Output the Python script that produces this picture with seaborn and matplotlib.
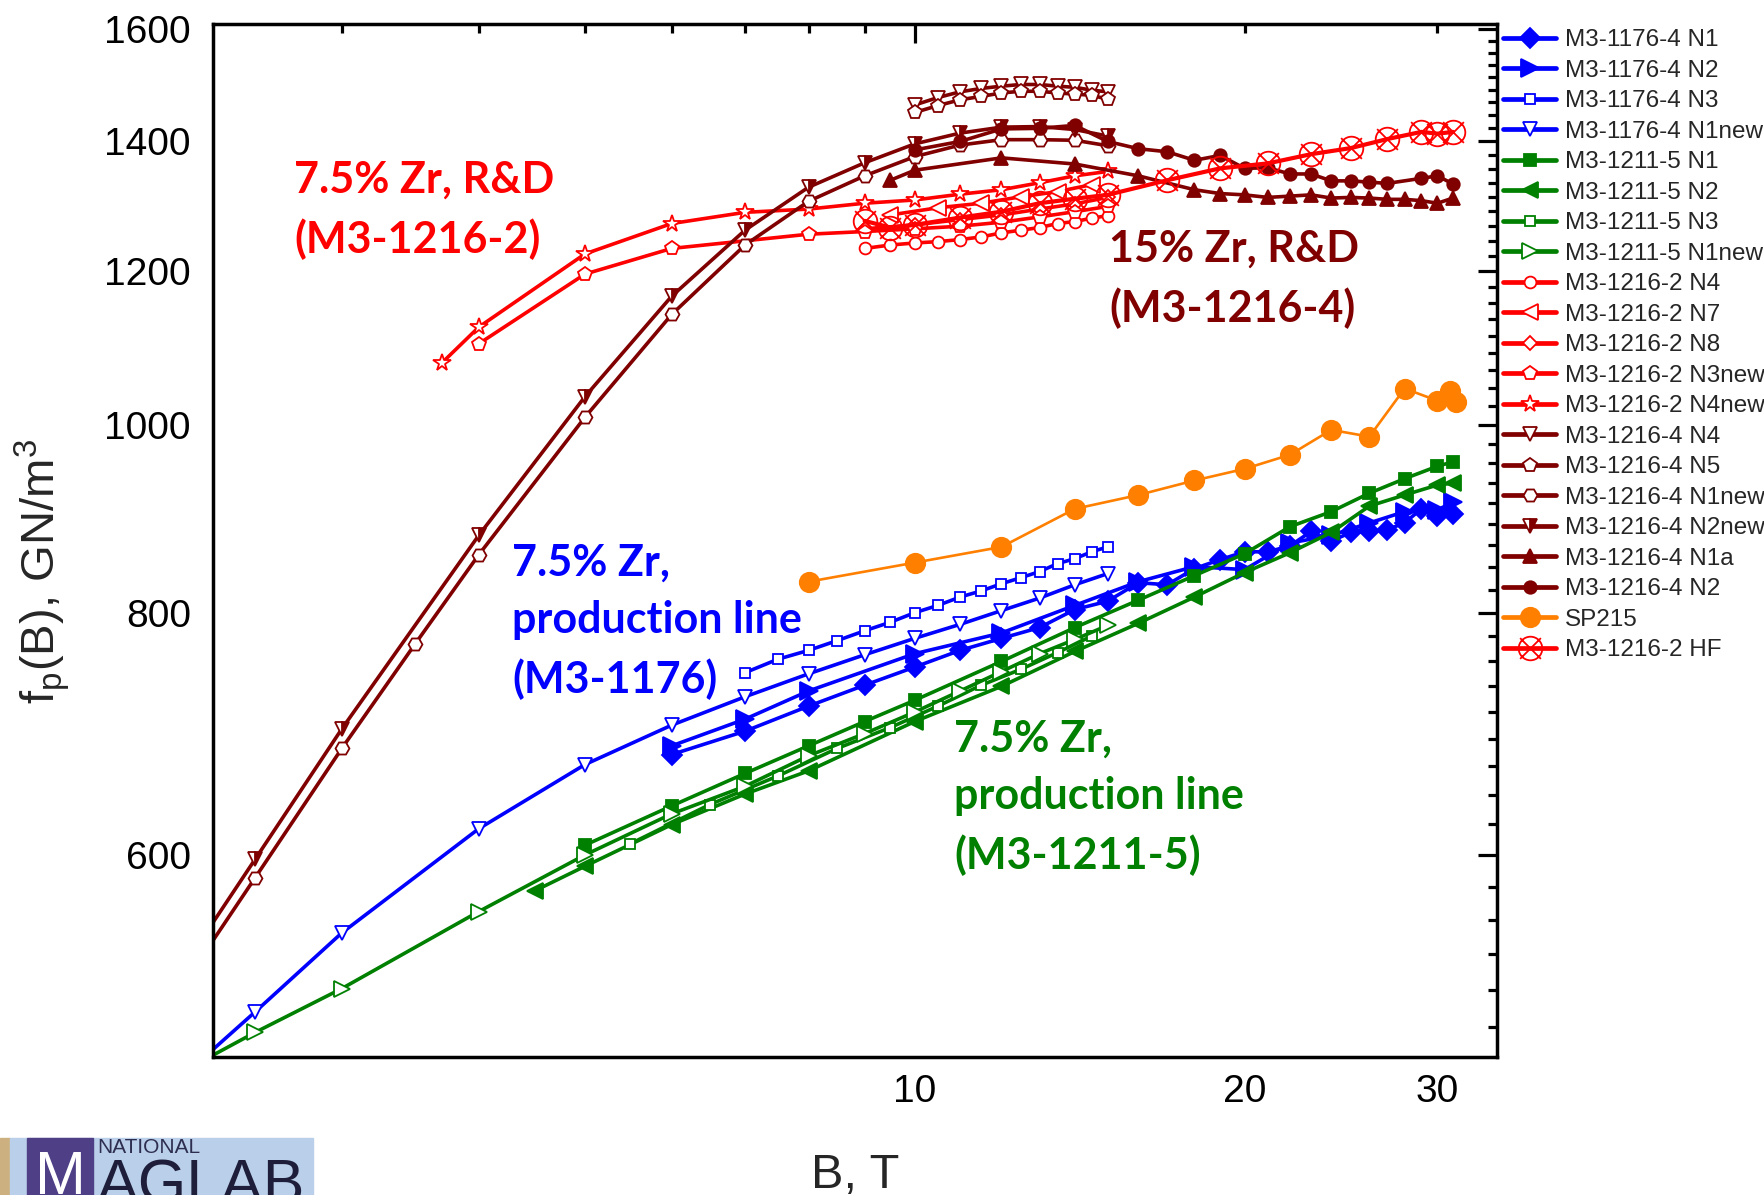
import matplotlib
matplotlib.use("Agg")
import matplotlib.pyplot as plt
import seaborn as sns
from matplotlib.path import Path
from matplotlib.ticker import FixedLocator, FixedFormatter, NullFormatter
from matplotlib.patches import Rectangle

# ---------------------------------------------------------------------------
# Pinning force density f_p (GN/m^3) versus applied field B (T)
# ---------------------------------------------------------------------------
# M3-1176-4 : 7.5% Zr, production line
b1176_n1 = [6, 7, 8, 9, 10, 11, 12, 13, 14, 15, 16, 17, 18, 19, 20, 21, 22, 23, 24, 25, 26, 27, 28, 29, 30, 31]
f1176_n1 = [676, 695, 716, 734, 750, 765, 776, 786, 803, 811, 829, 827, 843, 852, 860, 860, 866, 881, 871, 880,
            881, 883, 890, 905, 897, 899]
b1176_n2 = [6, 7, 8, 10, 12, 14, 16, 18, 20, 22, 24, 26, 28, 30, 31]
f1176_n2 = [683, 705, 729, 762, 781, 807, 830, 845, 842, 869, 877, 890, 902, 904, 912]
b1176_n3 = [7, 7.5, 8, 8.5, 9, 9.5, 10, 10.5, 11, 11.5, 12, 12.5, 13, 13.5, 14, 14.5, 15]
f1176_n3 = [745, 757, 765, 774, 783, 791, 800, 807, 815, 821, 828, 834, 840, 848, 853, 860, 865]
b1176_n1new = [2, 2.5, 3, 4, 5, 6, 7, 8, 9, 10, 11, 12, 13, 14, 15]
f1176_n1new = [445, 498, 547, 619, 668, 700, 724, 744, 761, 776, 789, 802, 814, 827, 838]

# M3-1211-5 : 7.5% Zr, production line
b1211_n1 = [5, 6, 7, 8, 9, 10, 12, 14, 16, 18, 20, 22, 24, 26, 28, 30, 31]
f1211_n1 = [607, 636, 661, 683, 703, 721, 755, 786, 812, 836, 858, 886, 902, 922, 938, 952, 957]
b1211_n2 = [4.5, 5, 6, 7, 8, 10, 12, 14, 16, 18, 20, 22, 24, 26, 28, 30, 31]
f1211_n2 = [575, 592, 622, 645, 663, 703, 733, 764, 790, 815, 839, 859, 880, 908, 920, 931, 933]
b1211_n3 = [5.5, 6.5, 7.5, 8.5, 9.5, 10.5, 11.5, 12.5, 13.5, 14.5]
f1211_n3 = [608, 637, 659, 681, 698, 716, 734, 748, 763, 778]
b1211_n1new = [2, 2.5, 3, 4, 5, 6, 7, 8, 9, 10, 11, 12, 13, 14, 15]
f1211_n1new = [454, 486, 512, 561, 600, 630, 651, 675, 693, 711, 729, 746, 762, 775, 788]

# M3-1216-2 : 7.5% Zr, R&D
b1216_2_n4 = [9, 9.5, 10, 10.5, 11, 11.5, 12, 12.5, 13, 13.5, 14, 14.5, 15]
f1216_2_n4 = [1233, 1238, 1241, 1243, 1246, 1250, 1256, 1260, 1264, 1270, 1273, 1278, 1282]
b1216_2_n7 = [9.5, 10.5, 11.5, 12.5, 13.5, 14.5]
f1216_2_n7 = [1283, 1294, 1301, 1311, 1319, 1330]
b1216_2_n8 = [9, 10, 11, 12, 13, 14, 15]
f1216_2_n8 = [1262, 1268, 1276, 1283, 1292, 1300, 1310]
b1216_2_n3new = [4, 5, 6, 8, 9, 10, 11, 12, 13, 14, 15]
f1216_2_n3new = [1101, 1196, 1233, 1254, 1258, 1262, 1266, 1272, 1280, 1288, 1296]
b1216_2_n4new = [3.7, 4, 5, 6, 7, 8, 9, 10, 11, 12, 13, 14, 15]
f1216_2_n4new = [1076, 1123, 1225, 1270, 1287, 1292, 1301, 1306, 1315, 1322, 1333, 1344, 1351]

# M3-1216-4 : 15% Zr, R&D
b1216_4_n4 = [10, 10.5, 11, 11.5, 12, 12.5, 13, 13.5, 14, 14.5, 15]
f1216_4_n4 = [1462, 1475, 1485, 1491, 1495, 1498, 1498, 1495, 1493, 1488, 1485]
b1216_4_n5 = [10, 10.5, 11, 11.5, 12, 12.5, 13, 13.5, 14, 14.5, 15]
f1216_4_n5 = [1449, 1461, 1471, 1477, 1483, 1486, 1486, 1483, 1481, 1479, 1472]
b1216_4_n1new = [2, 2.5, 3, 3.5, 4, 5, 6, 7, 8, 9, 10, 11, 12, 13, 14, 15]
f1216_4_n1new = [484, 584, 681, 771, 857, 1009, 1140, 1238, 1304, 1344, 1375, 1394, 1403, 1403, 1402, 1393]
b1216_4_n2new = [2, 2.5, 3, 4, 5, 6, 7, 8, 9, 10, 11, 12, 13, 14, 15]
f1216_4_n2new = [494, 597, 697, 877, 1034, 1165, 1260, 1326, 1365, 1396, 1414, 1424, 1425, 1420, 1409]
b1216_4_n1a = [9.5, 10, 12, 14, 16, 18, 19, 20, 21, 22, 23, 24, 25, 26, 27, 28, 29, 30, 31]
f1216_4_n1a = [1337, 1353, 1373, 1363, 1344, 1322, 1316, 1314, 1310, 1312, 1314, 1309, 1310, 1309, 1307,
               1307, 1305, 1301, 1309]
b1216_4_n2 = [10, 11, 12, 13, 14, 15, 16, 17, 18, 19, 20, 21, 22, 23, 24, 25, 26, 27, 29, 30, 31]
f1216_4_n2 = [1386, 1400, 1421, 1422, 1427, 1400, 1388, 1383, 1369, 1377, 1356, 1357, 1347, 1347, 1336,
              1336, 1334, 1332, 1340, 1344, 1331]

# Reference strand and high-field run
b_sp215 = [8, 10, 12, 14, 16, 18, 20, 22, 24, 26, 28, 30, 30.8, 31.2]
f_sp215 = [830, 849, 865, 905, 920, 936, 949, 965, 994, 986, 1044, 1029, 1041, 1028]
b1216_2_hf = [9, 9.5, 10, 11, 12, 13, 14, 15, 17, 19, 21, 23, 25, 27, 29, 30, 31]
f1216_2_hf = [1274, 1264, 1268, 1279, 1288, 1301, 1308, 1314, 1337, 1356, 1364, 1379, 1389, 1404, 1416,
              1413, 1416]

# axis ticks
x_major = [10]
x_minor = [3, 4, 5, 6, 7, 8, 9, 20, 30]
x_minor_labels = ["", "", "", "", "", "", "", "20", "30"]
y_major = [600, 800, 1000, 1200, 1400, 1600]

# ---------------------------------------------------------------------------
BLUE, GREEN, RED, MAROON, ORANGE = "#0000FF", "#008000", "#FF0000", "#800000", "#FF8000"

# circle with a cross through it
_a = 0.88
otimes = Path.make_compound_path(
    Path.unit_circle(),
    Path([(-_a, -_a), (_a, _a), (-_a, _a), (_a, -_a)],
         [Path.MOVETO, Path.LINETO, Path.MOVETO, Path.LINETO]))

series = [
    ("M3-1176-4 N1", b1176_n1, f1176_n1, dict(color=BLUE, marker="D", ms=10.5, mfc=BLUE)),
    ("M3-1176-4 N2", b1176_n2, f1176_n2, dict(color=BLUE, marker=">", ms=13, mfc=BLUE)),
    ("M3-1176-4 N3", b1176_n3, f1176_n3, dict(color=BLUE, marker="s", ms=7.5, mfc="white")),
    ("M3-1176-4 N1new", b1176_n1new, f1176_n1new, dict(color=BLUE, marker="v", ms=10, mfc="white")),
    ("M3-1211-5 N1", b1211_n1, f1211_n1, dict(color=GREEN, marker="s", ms=9, mfc=GREEN)),
    ("M3-1211-5 N2", b1211_n2, f1211_n2, dict(color=GREEN, marker="<", ms=11, mfc=GREEN)),
    ("M3-1211-5 N3", b1211_n3, f1211_n3, dict(color=GREEN, marker="s", ms=7.5, mfc="white")),
    ("M3-1211-5 N1new", b1211_n1new, f1211_n1new, dict(color=GREEN, marker=">", ms=12, mfc="white")),
    ("M3-1216-2 N4", b1216_2_n4, f1216_2_n4, dict(color=RED, marker="o", ms=8.5, mfc="white")),
    ("M3-1216-2 N7", b1216_2_n7, f1216_2_n7, dict(color=RED, marker="<", ms=11, mfc="white")),
    ("M3-1216-2 N8", b1216_2_n8, f1216_2_n8, dict(color=RED, marker="D", ms=7, mfc="white")),
    ("M3-1216-2 N3new", b1216_2_n3new, f1216_2_n3new, dict(color=RED, marker="p", ms=10, mfc="white")),
    ("M3-1216-2 N4new", b1216_2_n4new, f1216_2_n4new, dict(color=RED, marker="*", ms=13, mfc="white")),
    ("M3-1216-4 N4", b1216_4_n4, f1216_4_n4, dict(color=MAROON, marker="v", ms=10, mfc="white")),
    ("M3-1216-4 N5", b1216_4_n5, f1216_4_n5, dict(color=MAROON, marker="p", ms=10, mfc="white")),
    ("M3-1216-4 N1new", b1216_4_n1new, f1216_4_n1new, dict(color=MAROON, marker="H", ms=10, mfc="white")),
    ("M3-1216-4 N2new", b1216_4_n2new, f1216_4_n2new,
     dict(color=MAROON, marker="v", ms=10, mfc=MAROON, fillstyle="right", markerfacecoloralt="white")),
    ("M3-1216-4 N1a", b1216_4_n1a, f1216_4_n1a, dict(color=MAROON, marker="^", ms=10, mfc=MAROON)),
    ("M3-1216-4 N2", b1216_4_n2, f1216_4_n2, dict(color=MAROON, marker="o", ms=9, mfc=MAROON)),
    ("SP215", b_sp215, f_sp215, dict(color=ORANGE, marker="o", ms=14, mfc=ORANGE, lw=1.9)),
    ("M3-1216-2 HF", b1216_2_hf, f1216_2_hf, dict(color=RED, marker=otimes, ms=17, mfc="none", lw=3.0)),
]

# ---------------------------------------------------------------------------
sns.set_style("white")
plt.rcParams["font.family"] = ["Liberation Sans", "DejaVu Sans"]
plt.rcParams["mathtext.fontset"] = "custom"
plt.rcParams["mathtext.rm"] = "Liberation Sans"
plt.rcParams["mathtext.it"] = "Liberation Sans"

W, H = 1764, 1195
fig = plt.figure(figsize=(W / 100, H / 100), dpi=100)
L, R, T, Bt = 213, 1497, 24.3, 1057
ax = fig.add_axes([L / W, 1 - Bt / H, (R - L) / W, (Bt - T) / H])
ax.set_xscale("log")
ax.set_yscale("log")

for name, bx, fy, st in series:
    st = dict(st)
    color = st.pop("color")
    lw = st.pop("lw", 2.6)
    sns.lineplot(x=bx, y=fy, ax=ax, color=color, linewidth=lw, markeredgecolor=color,
                 markeredgewidth=1.3, label=name, estimator=None, errorbar=None,
                 legend=False, **st)

ax.set_xlim(2.288, 34.0)
ax.set_ylim(472, 1609)

# ticks
ax.xaxis.set_major_locator(FixedLocator(x_major))
ax.xaxis.set_major_formatter(FixedFormatter([str(v) for v in x_major]))
ax.xaxis.set_minor_locator(FixedLocator(x_minor))
ax.xaxis.set_minor_formatter(FixedFormatter(x_minor_labels))
y_minor = []
for lo in y_major[:-1]:
    y_minor += [lo + 200 * k / 9 for k in range(1, 9)]
y_minor += [600 - 200 * k / 9 for k in range(1, 6)]
ax.yaxis.set_major_locator(FixedLocator(y_major))
ax.yaxis.set_major_formatter(FixedFormatter([str(v) for v in y_major]))
ax.yaxis.set_minor_locator(FixedLocator(y_minor))
ax.yaxis.set_minor_formatter(NullFormatter())

ax.tick_params(which="both", direction="in", top=True, right=True, width=2.3, colors="black",
               labelsize=28)
ax.tick_params(which="major", length=14)
ax.tick_params(which="minor", length=6.5)
ax.tick_params(axis="y", which="both", pad=16)
ax.tick_params(axis="x", which="both", pad=12)
for sp in ax.spines.values():
    sp.set_linewidth(2.5)
    sp.set_color("black")
ax.set_xlabel("")
ax.set_ylabel("")
ax.grid(False)

# axis titles
fig.text(42 / W, 1 - 571 / H, r"f$_\mathregular{p}$(B), GN/m$^\mathregular{3}$", rotation=90,
         ha="center", va="center", fontsize=34)
fig.text(855 / W, 1 - 1188 / H, "B, T", ha="center", va="baseline", fontsize=35)

# group annotations
ann = dict(fontfamily=["Lato", "DejaVu Sans"], fontweight="bold", fontsize=31, linespacing=1.52,
           ha="left", va="top", transform=fig.transFigure)
fig.text(294 / W, 1 - 160 / H, "7.5% Zr, R&D\n(M3-1216-2)", color=RED, **ann)
fig.text(1109 / W, 1 - 229 / H, "15% Zr, R&D\n(M3-1216-4)", color=MAROON, **ann)
fig.text(512 / W, 1 - 543 / H, "7.5% Zr,\nproduction line\n(M3-1176)", color=BLUE, **ann)
fig.text(954 / W, 1 - 719 / H, "7.5% Zr,\nproduction line\n(M3-1211-5)", color=GREEN, **ann)

# legend
handles = ax.get_lines()
labels = [s[0] for s in series]
leg = fig.legend(handles, labels, loc="upper left", bbox_to_anchor=(1503 / W, 1 - 29 / H),
                 frameon=False, fontsize=17.5, handlelength=2.2, handletextpad=0.35,
                 labelspacing=0.35, borderpad=0, borderaxespad=0, numpoints=1)
for lh in leg.get_lines():
    lh.set_linewidth(3.4)

# lab logo strip
def px_rect(x0, y0, x1, y1, color):
    fig.patches.append(Rectangle((x0 / W, 1 - y1 / H), (x1 - x0) / W, (y1 - y0) / H,
                                 transform=fig.transFigure, color=color, zorder=0))

px_rect(0, 1138, 10, 1195, "#CDB07F")
px_rect(10, 1138, 313, 1195, "#B9CFEA")
px_rect(27, 1138, 93, 1195, "#4E3F87")
fig.text(60 / W, 1 - 1150 / H, "M", color="white", fontsize=44, ha="center", va="top")
fig.text(97 / W, 1 - 1138 / H, "NATIONAL", color="#2E2E50", fontsize=15, ha="left", va="top")
fig.text(97 / W, 1 - 1158 / H, "AGLAB", color="#1E1E3A", fontsize=45, ha="left", va="top")

fig.savefig("out.png", dpi=100)
